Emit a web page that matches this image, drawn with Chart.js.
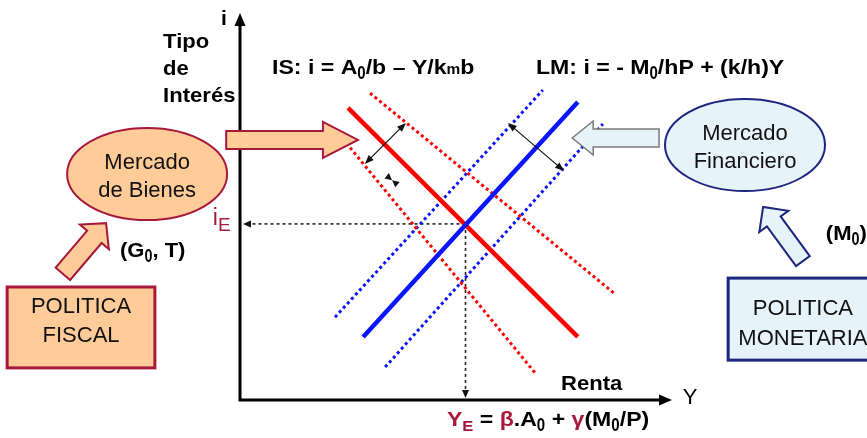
<!DOCTYPE html>
<html>
<head>
<meta charset="utf-8">
<script src="https://cdn.jsdelivr.net/npm/chart.js@4.4.0/dist/chart.umd.min.js"></script>
<style>
  html, body { margin: 0; padding: 0; background: #fff; }
</style>
</head>
<body>
<canvas id="islm" width="867" height="438"></canvas>
<script>
// ✅ datos: extremos de cada curva (x = Renta, y = Tipo de interés), unidades 0..10
const isBase  = [{ x: 2.50, y: 7.55 }, { x: 7.82, y: 1.63 }];
const isRight = [{ x: 3.01, y: 7.93 }, { x: 8.68, y: 2.74 }];
const isLeft  = [{ x: 2.46, y: 6.64 }, { x: 6.83, y: 0.70 }];
const lmBase  = [{ x: 2.85, y: 1.63 }, { x: 7.82, y: 7.70 }];
const lmLeft  = [{ x: 2.20, y: 2.14 }, { x: 7.01, y: 8.01 }];
const lmRight = [{ x: 3.36, y: 0.85 }, { x: 8.40, y: 7.13 }];
const equilibrium = { x: 5.22, y: 4.55 };
const axisMax = 10;

const RED = "#ff0000";
const BLUE = "#0a14ff";
const MAROON = "#a8183a";
const PEACH = "#ffcc99";
const ICE = "#e6f3f8";
const NAVY = "#1c2580";
const FONT = "'Liberation Sans', Arial, sans-serif";

// 🔹 texto con subíndices
function richText(ctx, x, y, parts, align, stretch) {
  stretch = stretch || 1;
  const def = p => Object.assign({ size: 21, bold: true, color: "#000", dy: 0, sx: 1 }, p);
  const list = parts.map(p => def(typeof p === "string" ? { t: p } : p));
  let total = 0;
  for (const p of list) {
    p.sx *= stretch;
    ctx.font = `${p.bold ? "bold " : ""}${p.size}px ${FONT}`;
    p.w = ctx.measureText(p.t).width * p.sx;
    total += p.w;
  }
  if (align === "center") x -= total / 2;
  ctx.textBaseline = "alphabetic";
  ctx.textAlign = "left";
  for (const p of list) {
    ctx.save();
    ctx.font = `${p.bold ? "bold " : ""}${p.size}px ${FONT}`;
    ctx.fillStyle = p.color;
    ctx.translate(x, y + p.dy);
    ctx.scale(p.sx, 1);
    ctx.fillText(p.t, 0, 0);
    ctx.restore();
    x += p.w;
  }
}

function blockArrow(ctx, x1, y1, x2, y2, bw, hw, hl, fill, stroke, lw) {
  const ang = Math.atan2(y2 - y1, x2 - x1);
  const len = Math.hypot(x2 - x1, y2 - y1);
  ctx.save();
  ctx.translate(x1, y1);
  ctx.rotate(ang);
  ctx.beginPath();
  ctx.moveTo(0, -bw / 2);
  ctx.lineTo(len - hl, -bw / 2);
  ctx.lineTo(len - hl, -hw / 2);
  ctx.lineTo(len, 0);
  ctx.lineTo(len - hl, hw / 2);
  ctx.lineTo(len - hl, bw / 2);
  ctx.lineTo(0, bw / 2);
  ctx.closePath();
  ctx.fillStyle = fill;
  ctx.fill();
  ctx.lineWidth = lw;
  ctx.lineJoin = "miter";
  ctx.strokeStyle = stroke;
  ctx.stroke();
  ctx.restore();
}

function head(ctx, x, y, ang, len, wid, color) {
  ctx.save();
  ctx.translate(x, y);
  ctx.rotate(ang);
  ctx.beginPath();
  ctx.moveTo(0, 0);
  ctx.lineTo(-len, -wid / 2);
  ctx.lineTo(-len, wid / 2);
  ctx.closePath();
  ctx.fillStyle = color;
  ctx.fill();
  ctx.restore();
}

function doubleArrow(ctx, x1, y1, x2, y2) {
  const ang = Math.atan2(y2 - y1, x2 - x1);
  ctx.save();
  ctx.strokeStyle = "#111";
  ctx.lineWidth = 1.2;
  ctx.beginPath();
  ctx.moveTo(x1 + Math.cos(ang) * 5, y1 + Math.sin(ang) * 5);
  ctx.lineTo(x2 - Math.cos(ang) * 5, y2 - Math.sin(ang) * 5);
  ctx.stroke();
  ctx.restore();
  head(ctx, x2, y2, ang, 9, 7, "#111");
  head(ctx, x1, y1, ang + Math.PI, 9, 7, "#111");
}

function ellipse(ctx, cx, cy, rx, ry, fill, stroke) {
  ctx.beginPath();
  ctx.ellipse(cx, cy, rx, ry, 0, 0, Math.PI * 2);
  ctx.fillStyle = fill;
  ctx.fill();
  ctx.lineWidth = 2;
  ctx.strokeStyle = stroke;
  ctx.stroke();
}

function box(ctx, x1, y1, x2, y2, fill, stroke) {
  ctx.fillStyle = fill;
  ctx.fillRect(x1, y1, x2 - x1, y2 - y1);
  ctx.lineWidth = 3;
  ctx.strokeStyle = stroke;
  ctx.strokeRect(x1, y1, x2 - x1, y2 - y1);
}

function plainText(ctx, x, y, t, size, color) {
  ctx.font = `${size}px ${FONT}`;
  ctx.fillStyle = color || "#111";
  ctx.textAlign = "center";
  ctx.textBaseline = "alphabetic";
  ctx.fillText(t, x, y);
}

// 🔹 ejes, flechas, cajas y rótulos
const islmDecor = {
  id: "islmDecor",
  afterDatasetsDraw(chart) {
    const ctx = chart.ctx;
    const xs = chart.scales.x, ys = chart.scales.y;
    const X = v => xs.getPixelForValue(v);
    const Y = v => ys.getPixelForValue(v);

    // ejes
    ctx.save();
    ctx.strokeStyle = "#000";
    ctx.lineWidth = 3;
    ctx.lineCap = "butt";
    ctx.beginPath();
    ctx.moveTo(X(0), Y(axisMax) + 10);
    ctx.lineTo(X(0), Y(0));
    ctx.lineTo(X(axisMax) - 10, Y(0));
    ctx.stroke();
    ctx.restore();
    head(ctx, X(0), Y(axisMax), -Math.PI / 2, 13, 11, "#000");
    head(ctx, X(axisMax), Y(0), 0, 13, 11, "#000");

    // guías del equilibrio
    head(ctx, X(0) + 3, Y(equilibrium.y), Math.PI, 8, 7, "#111");
    head(ctx, X(equilibrium.x), Y(0) - 2, Math.PI / 2, 8, 7, "#111");

    // desplazamientos
    doubleArrow(ctx, X(2.89), Y(6.10), X(3.84), Y(7.16));
    doubleArrow(ctx, X(6.20), Y(7.16), X(7.50), Y(5.92));
    const bx = X(3.52), by = Y(5.68), ba = Math.atan2(10, 12);
    head(ctx, bx, by, ba, 7, 7, "#111");
    head(ctx, bx, by, ba + Math.PI, 7, 7, "#111");

    // flechas grandes
    blockArrow(ctx, X(-0.32), Y(6.72), X(2.73), Y(6.72), 18, 36, 35, PEACH, MAROON, 2);
    blockArrow(ctx, X(9.70), Y(6.77), X(7.69), Y(6.77), 18, 34, 21, ICE, "#7a7a7a", 1.5);
    blockArrow(ctx, X(-4.10), Y(3.26), X(-3.10), Y(4.57), 19, 38, 18, PEACH, MAROON, 2);
    blockArrow(ctx, X(13.03), Y(3.59), X(12.11), Y(4.99), 17, 36, 18, ICE, NAVY, 2);

    // mercados
    ellipse(ctx, X(-2.15), Y(5.84), 80, 46, PEACH, MAROON);
    plainText(ctx, X(-2.15), Y(5.97), "Mercado", 22);
    plainText(ctx, X(-2.15), Y(5.25), "de Bienes", 22);
    ellipse(ctx, X(11.69), Y(6.59), 80, 46, ICE, NAVY);
    plainText(ctx, X(11.69), Y(6.72), "Mercado", 22);
    plainText(ctx, X(11.69), Y(5.99), "Financiero", 22);

    // políticas
    box(ctx, X(-5.39), Y(2.92), X(-1.97), Y(0.83), PEACH, MAROON);
    plainText(ctx, X(-3.68), Y(2.25), "POLITICA", 22);
    plainText(ctx, X(-3.68), Y(1.50), "FISCAL", 22);
    box(ctx, X(11.30), Y(3.15), X(14.81), Y(1.03), ICE, NAVY);
    plainText(ctx, X(13.03), Y(2.20), "POLITICA", 22);
    plainText(ctx, X(13.03), Y(1.42), "MONETARIA", 22);

    // rótulos
    const sub = t => ({ t: t, size: 19, sx: 0.72, dy: 5 });
    richText(ctx, X(-0.37), Y(9.69), ["i"], "center");
    richText(ctx, X(-1.78), Y(9.10), ["Tipo"], null, 1.05);
    richText(ctx, X(-1.78), Y(8.40), ["de"], null, 1.05);
    richText(ctx, X(-1.78), Y(7.70), ["Interés"], null, 1.05);
    richText(ctx, X(0.74), Y(8.42), ["IS: i = A", sub("0"), "/b – Y/k", { t: "m", size: 14 }, "b"], null, 1.1);
    richText(ctx, X(6.85), Y(8.42), ["LM: i = - M", sub("0"), "/hP + (k/h)Y"], null, 1.1);
    richText(ctx, X(-0.63), Y(4.52), [{ t: "i", size: 23, bold: false, color: MAROON }, { t: "E", size: 19, bold: false, color: MAROON, dy: 6 }]);
    richText(ctx, X(7.43), Y(0.26), ["Renta"], null, 1.05);
    richText(ctx, X(10.42), Y(-0.10), [{ t: "Y", size: 22, bold: false }], "center");
    richText(ctx, X(4.79), Y(-0.67), [
      { t: "Y", color: MAROON }, { t: "E", size: 15, color: MAROON, dy: 5 },
      " = ", { t: "β", color: MAROON }, ".A", sub("0"), " + ", { t: "γ", color: MAROON },
      "(M", sub("0"), "/P)"
    ], null, 1.1);
    richText(ctx, X(-2.78), Y(3.70), ["(G", sub("0"), ", T)"], null, 1.05);
    richText(ctx, X(13.56), Y(4.13), ["(M", sub("0"), ")"], null, 1.05);
  }
};

function line(data, color, width, dotted, order) {
  return {
    data: data,
    showLine: true,
    borderColor: color,
    borderWidth: width,
    borderDash: dotted ? [3, 3] : [],
    pointRadius: 0,
    fill: false,
    order: order
  };
}

// 🔹 gráfico IS-LM
const islmChart = new Chart(document.getElementById("islm").getContext("2d"), {
  type: "scatter",
  data: {
    datasets: [
      line([equilibrium, { x: 0.1, y: equilibrium.y }], "#222", 1.6, true, 5),
      line([equilibrium, { x: equilibrium.x, y: 0.1 }], "#222", 1.6, true, 5),
      line(isRight, RED, 3, true, 4),
      line(isLeft, RED, 3, true, 4),
      line(lmLeft, BLUE, 3, true, 4),
      line(lmRight, BLUE, 3, true, 4),
      line(isBase, RED, 4.5, false, 2),
      line(lmBase, BLUE, 4.5, false, 1)
    ]
  },
  options: {
    responsive: false,
    animation: false,
    layout: { padding: { left: 240, right: 195, top: 13, bottom: 38 } },
    scales: {
      x: { type: "linear", min: 0, max: axisMax, display: false },
      y: { type: "linear", min: 0, max: axisMax, display: false }
    },
    plugins: {
      legend: { display: false },
      tooltip: { enabled: false }
    }
  },
  plugins: [islmDecor]
});
</script>
</body>
</html>
